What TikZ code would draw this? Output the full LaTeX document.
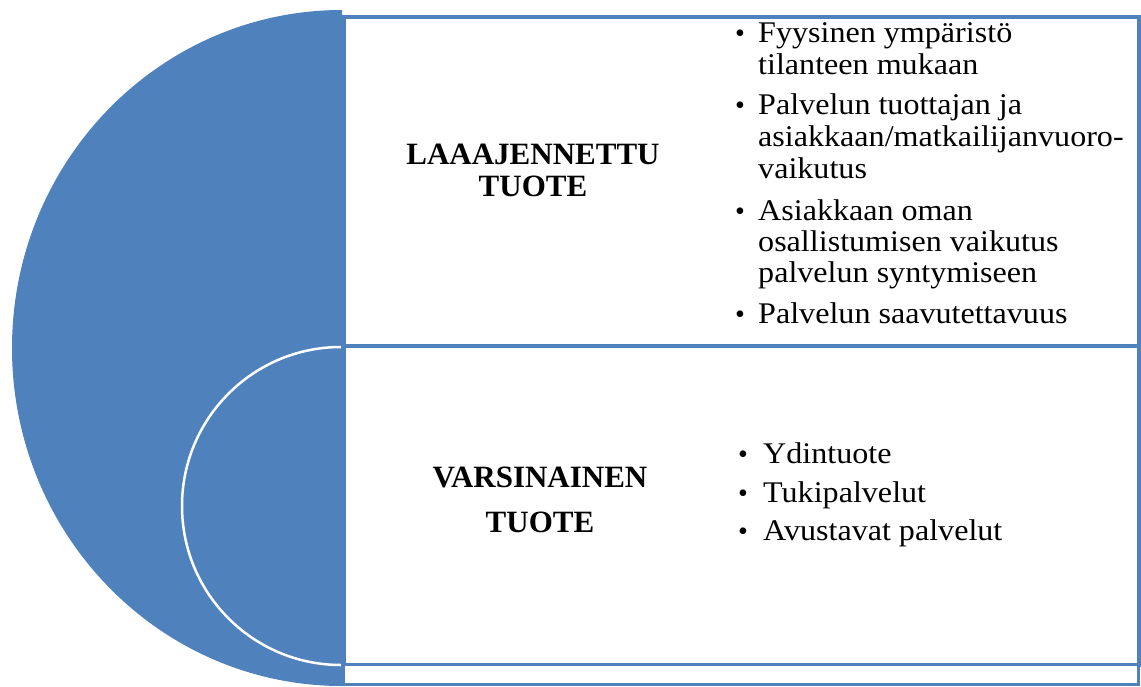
\documentclass[tikz,border=0pt]{standalone}
\usepackage{fontspec}
\setmainfont{Liberation Serif}
\newfontfamily\itemfont[FakeStretch=1.07]{Liberation Serif}
\definecolor{ublue}{HTML}{4F81BD}
\begin{document}
\begin{tikzpicture}[x=1pt,y=-1pt,
  box/.style={draw=ublue, line width=3.5pt, fill=white, inner sep=0, anchor=north west},
  ttl/.style={font=\fontsize{31}{32}\selectfont\bfseries, align=center, inner sep=0},
  bul/.style={font=\fontsize{28}{28}\selectfont, anchor=base, inner sep=0},
  itm/.style={font=\itemfont\fontsize{30}{32}\selectfont, anchor=base west, inner sep=0}]
\useasboundingbox (0,0) rectangle (1141,686);
% big half disc
\fill[ublue] (342,10) arc[start angle=270,end angle=90,x radius=330,y radius=338] -- cycle;
% inner white half circle
\draw[white, line width=2.5pt] (341,347) arc[start angle=270,end angle=90,radius=159];
% boxes
\node[box, minimum width=795pt, minimum height=329pt] (ext) at (342,15) {};
\node[box, minimum width=795pt, minimum height=319pt] (var) at (342,344) {};
\node[box, line width=2.5pt, minimum width=795pt, minimum height=20pt] (strip) at (342,663) {};
% titles
\node[ttl] (t1) at (533,170) {LAAAJENNETTU\\TUOTE};
\node[ttl, font=\fontsize{31}{45}\selectfont\bfseries] (t2) at (540,500) {VARSINAINEN\\TUOTE};
% upper list
\node[bul] (b1) at (740,42) {•};
\node[itm] (i1) at (758,42) {\parbox[t]{380pt}{\raggedright\baselineskip=32pt Fyysinen ympäristö\\tilanteen mukaan}};
\node[bul] (b2) at (740,114) {•};
\node[itm] (i2) at (758,114) {\parbox[t]{380pt}{\raggedright\baselineskip=32pt Palvelun tuottajan ja\\asiakkaan/matkailijanvuoro-\\vaikutus}};
\node[bul] (b3) at (740,220) {•};
\node[itm] (i3) at (758,220) {\parbox[t]{380pt}{\raggedright\baselineskip=31pt Asiakkaan oman\\osallistumisen vaikutus\\palvelun syntymiseen}};
\node[bul] (b4) at (740,323) {•};
\node[itm] (i4) at (758,323) {Palvelun saavutettavuus};
% lower list
\node[bul] (c1) at (743,463) {•};
\node[itm] (j1) at (763,463) {Ydintuote};
\node[bul] (c2) at (743,502) {•};
\node[itm] (j2) at (763,502) {Tukipalvelut};
\node[bul] (c3) at (743,540) {•};
\node[itm] (j3) at (763,540) {Avustavat palvelut};
\end{tikzpicture}
\end{document}
